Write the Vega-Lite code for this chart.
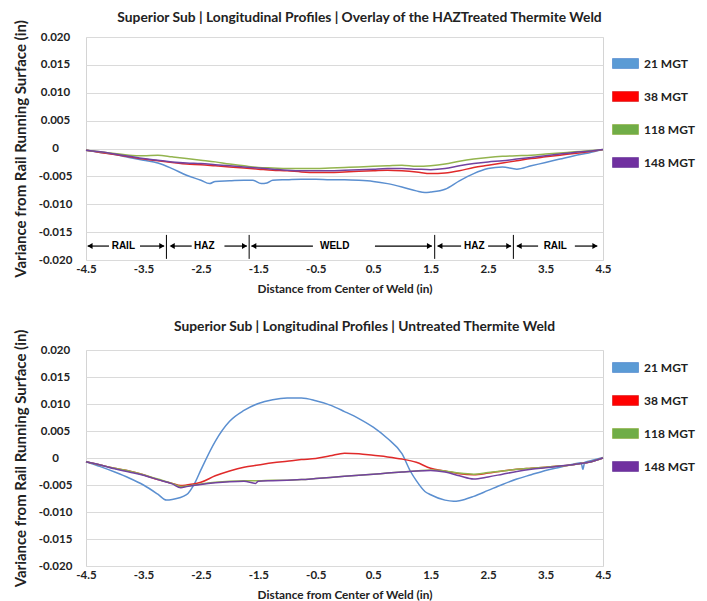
{
  "$schema": "https://vega.github.io/schema/vega-lite/v6.json",
  "background": "white",
  "padding": {"left": 12, "top": 10, "right": 4, "bottom": 0},
  "bounds": "flush",
  "config": {
    "font": "Lato",
    "view": {"stroke": "#d4d4d4", "strokeWidth": 1},
    "axis": {"labelFont": "Lato", "labelFontWeight": "bold", "labelFontSize": 11.5, "labelColor": "#222222", "titleFont": "Lato", "titleFontWeight": "bold", "titleColor": "#222222", "ticks": false, "domain": false, "gridColor": "#dadada", "labelOverlap": false},
    "title": {"font": "Lato", "fontWeight": "bold", "fontSize": 13.8, "color": "#222222"},
    "legend": {"labelFont": "Lato", "labelFontWeight": "bold", "labelFontSize": 12, "labelColor": "#222222", "symbolType": "M-1,-0.38H1V0.38H-1Z", "symbolSize": 676, "symbolStrokeWidth": 0.8, "labelOffset": 5, "rowPadding": 12, "padding": 0}
  },
  "datasets": {
    "top": [
      {"x": -4.5, "21 MGT": -0.0003, "38 MGT": -0.0003, "118 MGT": -0.0003, "148 MGT": -0.0003},
      {"x": -4.25, "21 MGT": -0.0007, "38 MGT": -0.0007, "118 MGT": -0.0006, "148 MGT": -0.0006},
      {"x": -4.0, "21 MGT": -0.0011, "38 MGT": -0.0011, "118 MGT": -0.0009, "148 MGT": -0.001},
      {"x": -3.75, "21 MGT": -0.0016, "38 MGT": -0.0015, "118 MGT": -0.0012, "148 MGT": -0.0014},
      {"x": -3.5, "21 MGT": -0.0021, "38 MGT": -0.0019, "118 MGT": -0.0013, "148 MGT": -0.0018},
      {"x": -3.25, "21 MGT": -0.0026, "38 MGT": -0.0022, "118 MGT": -0.0012, "148 MGT": -0.0021},
      {"x": -3.0, "21 MGT": -0.0036, "38 MGT": -0.0025, "118 MGT": -0.0015, "148 MGT": -0.0024},
      {"x": -2.75, "21 MGT": -0.0048, "38 MGT": -0.0028, "118 MGT": -0.0018, "148 MGT": -0.0026},
      {"x": -2.5, "21 MGT": -0.0057, "38 MGT": -0.0029, "118 MGT": -0.0021, "148 MGT": -0.0027},
      {"x": -2.35, "21 MGT": -0.0063},
      {"x": -2.25, "21 MGT": -0.0059, "38 MGT": -0.0031, "118 MGT": -0.0024, "148 MGT": -0.0029},
      {"x": -2.0, "21 MGT": -0.0058, "38 MGT": -0.0033, "118 MGT": -0.0028, "148 MGT": -0.0031},
      {"x": -1.75, "21 MGT": -0.0057, "38 MGT": -0.0035, "118 MGT": -0.0031, "148 MGT": -0.0033},
      {"x": -1.6, "21 MGT": -0.0057},
      {"x": -1.5, "38 MGT": -0.0037, "118 MGT": -0.0034, "148 MGT": -0.0035},
      {"x": -1.45, "21 MGT": -0.0063},
      {"x": -1.35, "21 MGT": -0.0062},
      {"x": -1.25, "21 MGT": -0.0057, "38 MGT": -0.0039, "118 MGT": -0.0035, "148 MGT": -0.0037},
      {"x": -1.0, "21 MGT": -0.0056, "38 MGT": -0.004, "118 MGT": -0.0036, "148 MGT": -0.0039},
      {"x": -0.75, "21 MGT": -0.0055, "38 MGT": -0.0042, "118 MGT": -0.0036, "148 MGT": -0.004},
      {"x": -0.5, "21 MGT": -0.0055, "38 MGT": -0.0043, "118 MGT": -0.0036, "148 MGT": -0.004},
      {"x": -0.25, "21 MGT": -0.0056, "38 MGT": -0.0043, "118 MGT": -0.0035, "148 MGT": -0.004},
      {"x": 0.0, "21 MGT": -0.0056, "38 MGT": -0.0042, "118 MGT": -0.0034, "148 MGT": -0.0039},
      {"x": 0.25, "21 MGT": -0.0057, "38 MGT": -0.0041, "118 MGT": -0.0033, "148 MGT": -0.0038},
      {"x": 0.5, "21 MGT": -0.0059, "38 MGT": -0.004, "118 MGT": -0.0032, "148 MGT": -0.0037},
      {"x": 0.75, "21 MGT": -0.0063, "38 MGT": -0.0039, "118 MGT": -0.0031, "148 MGT": -0.0036},
      {"x": 1.0, "21 MGT": -0.0069, "38 MGT": -0.004, "118 MGT": -0.003, "148 MGT": -0.0036},
      {"x": 1.25, "21 MGT": -0.0076, "38 MGT": -0.0042, "118 MGT": -0.0032, "148 MGT": -0.0037},
      {"x": 1.4, "21 MGT": -0.0079},
      {"x": 1.5, "21 MGT": -0.0078, "38 MGT": -0.0045, "118 MGT": -0.0031, "148 MGT": -0.0038},
      {"x": 1.75, "21 MGT": -0.0073, "38 MGT": -0.0044, "118 MGT": -0.0028, "148 MGT": -0.0036},
      {"x": 2.0, "21 MGT": -0.0058, "38 MGT": -0.004, "118 MGT": -0.0023, "148 MGT": -0.0031},
      {"x": 2.25, "21 MGT": -0.0045, "38 MGT": -0.0034, "118 MGT": -0.0019, "148 MGT": -0.0027},
      {"x": 2.5, "21 MGT": -0.0036, "38 MGT": -0.003, "118 MGT": -0.0016, "148 MGT": -0.0024},
      {"x": 2.75, "21 MGT": -0.0033, "38 MGT": -0.0026, "118 MGT": -0.0014, "148 MGT": -0.0022},
      {"x": 3.0, "21 MGT": -0.0037, "38 MGT": -0.0022, "118 MGT": -0.0013, "148 MGT": -0.0019},
      {"x": 3.25, "21 MGT": -0.0031, "38 MGT": -0.0018, "118 MGT": -0.0012, "148 MGT": -0.0016},
      {"x": 3.5, "21 MGT": -0.0025, "38 MGT": -0.0015, "118 MGT": -0.001, "148 MGT": -0.0013},
      {"x": 3.75, "21 MGT": -0.0019, "38 MGT": -0.0012, "118 MGT": -0.0008, "148 MGT": -0.001},
      {"x": 4.0, "21 MGT": -0.0013, "38 MGT": -0.0009, "118 MGT": -0.0006, "148 MGT": -0.0007},
      {"x": 4.25, "21 MGT": -0.0008, "38 MGT": -0.0006, "118 MGT": -0.0004, "148 MGT": -0.0005},
      {"x": 4.5, "21 MGT": -0.0002, "38 MGT": -0.0002, "118 MGT": -0.0002, "148 MGT": -0.0002}
    ],
    "bottom": [
      {"x": -4.5, "21 MGT": -0.0007, "38 MGT": -0.0007, "118 MGT": -0.0007, "148 MGT": -0.0007},
      {"x": -4.25, "21 MGT": -0.0016, "38 MGT": -0.0013, "118 MGT": -0.0013, "148 MGT": -0.0013},
      {"x": -4.0, "21 MGT": -0.0026, "38 MGT": -0.0019, "118 MGT": -0.0019, "148 MGT": -0.002},
      {"x": -3.75, "21 MGT": -0.0037, "38 MGT": -0.0024, "118 MGT": -0.0024, "148 MGT": -0.0026},
      {"x": -3.5, "21 MGT": -0.005, "38 MGT": -0.0031, "118 MGT": -0.0031, "148 MGT": -0.0032},
      {"x": -3.25, "21 MGT": -0.0067, "38 MGT": -0.004, "118 MGT": -0.0039, "148 MGT": -0.004},
      {"x": -3.1, "21 MGT": -0.0078},
      {"x": -3.0, "21 MGT": -0.0077, "38 MGT": -0.0047, "118 MGT": -0.0047, "148 MGT": -0.0048},
      {"x": -2.85, "38 MGT": -0.0051, "118 MGT": -0.0053, "148 MGT": -0.0055},
      {"x": -2.75, "21 MGT": -0.0068, "38 MGT": -0.005, "118 MGT": -0.0052, "148 MGT": -0.0053},
      {"x": -2.6, "21 MGT": -0.0045},
      {"x": -2.5, "21 MGT": -0.0022, "38 MGT": -0.0045, "118 MGT": -0.0048, "148 MGT": -0.0049},
      {"x": -2.25, "21 MGT": 0.0031, "38 MGT": -0.0033, "118 MGT": -0.0045, "148 MGT": -0.0046},
      {"x": -2.0, "21 MGT": 0.0068, "38 MGT": -0.0024, "118 MGT": -0.0043, "148 MGT": -0.0044},
      {"x": -1.75, "21 MGT": 0.0088, "38 MGT": -0.0017, "118 MGT": -0.0042, "148 MGT": -0.0043},
      {"x": -1.55, "148 MGT": -0.0047},
      {"x": -1.5, "21 MGT": 0.0101, "38 MGT": -0.0013, "118 MGT": -0.0042, "148 MGT": -0.0043},
      {"x": -1.25, "21 MGT": 0.0108, "38 MGT": -0.0009, "118 MGT": -0.0041, "148 MGT": -0.0042},
      {"x": -1.0, "21 MGT": 0.0111, "38 MGT": -0.0006, "118 MGT": -0.0041, "148 MGT": -0.0041},
      {"x": -0.75, "21 MGT": 0.0111, "38 MGT": -0.0003, "118 MGT": -0.004, "148 MGT": -0.004},
      {"x": -0.5, "21 MGT": 0.0106, "38 MGT": -0.0001, "118 MGT": -0.0038, "148 MGT": -0.0038},
      {"x": -0.25, "21 MGT": 0.0098, "38 MGT": 0.0004, "118 MGT": -0.0036, "148 MGT": -0.0036},
      {"x": 0.0, "21 MGT": 0.0086, "38 MGT": 0.0009, "118 MGT": -0.0034, "148 MGT": -0.0034},
      {"x": 0.25, "21 MGT": 0.0073, "38 MGT": 0.0008, "118 MGT": -0.0032, "148 MGT": -0.0032},
      {"x": 0.5, "21 MGT": 0.0057, "38 MGT": 0.0005, "118 MGT": -0.003, "148 MGT": -0.003},
      {"x": 0.75, "21 MGT": 0.0036, "38 MGT": 0.0002, "118 MGT": -0.0028, "148 MGT": -0.0028},
      {"x": 1.0, "21 MGT": 0.0008, "38 MGT": -0.0002, "118 MGT": -0.0026, "148 MGT": -0.0026},
      {"x": 1.15, "21 MGT": -0.0025},
      {"x": 1.25, "21 MGT": -0.0042, "38 MGT": -0.0008, "118 MGT": -0.0024, "148 MGT": -0.0024},
      {"x": 1.4, "21 MGT": -0.0062},
      {"x": 1.5, "21 MGT": -0.0068, "38 MGT": -0.0019, "118 MGT": -0.0022, "148 MGT": -0.0023},
      {"x": 1.75, "21 MGT": -0.0078, "38 MGT": -0.0024, "118 MGT": -0.0024, "148 MGT": -0.0026},
      {"x": 1.9, "21 MGT": -0.008},
      {"x": 2.0, "21 MGT": -0.0079, "38 MGT": -0.0029, "118 MGT": -0.0028, "148 MGT": -0.0033},
      {"x": 2.25, "21 MGT": -0.0071, "38 MGT": -0.0031, "118 MGT": -0.003, "148 MGT": -0.0039},
      {"x": 2.5, "21 MGT": -0.006, "38 MGT": -0.0028, "118 MGT": -0.0027, "148 MGT": -0.0035},
      {"x": 2.75, "21 MGT": -0.0049, "38 MGT": -0.0024, "118 MGT": -0.0024, "148 MGT": -0.003},
      {"x": 3.0, "21 MGT": -0.0039, "38 MGT": -0.0021, "118 MGT": -0.0021, "148 MGT": -0.0025},
      {"x": 3.25, "21 MGT": -0.0031, "38 MGT": -0.0019, "118 MGT": -0.0019, "148 MGT": -0.0021},
      {"x": 3.5, "21 MGT": -0.0023, "38 MGT": -0.0017, "118 MGT": -0.0017, "148 MGT": -0.0018},
      {"x": 3.75, "21 MGT": -0.0017, "38 MGT": -0.0015, "118 MGT": -0.0015, "148 MGT": -0.0015},
      {"x": 4.0, "21 MGT": -0.0011, "38 MGT": -0.0012, "118 MGT": -0.0012, "148 MGT": -0.0012},
      {"x": 4.12, "21 MGT": -0.0009},
      {"x": 4.15, "21 MGT": -0.0021},
      {"x": 4.18, "21 MGT": -0.0008},
      {"x": 4.25, "21 MGT": -0.0006, "38 MGT": -0.0008, "118 MGT": -0.0008, "148 MGT": -0.0008},
      {"x": 4.5, "21 MGT": 0.0001, "38 MGT": 0.0, "118 MGT": 0.0, "148 MGT": 0.0}
    ],
    "segs": [
      {"x": -4.47, "x2": -4.1, "value": -0.0175},
      {"x": -3.56, "x2": -3.14, "value": -0.0175},
      {"x": -3.02, "x2": -2.66, "value": -0.0175},
      {"x": -2.09, "x2": -1.7, "value": -0.0175},
      {"x": -1.62, "x2": -0.55, "value": -0.0175},
      {"x": 0.53, "x2": 1.52, "value": -0.0175},
      {"x": 1.62, "x2": 2.03, "value": -0.0175},
      {"x": 2.5, "x2": 2.9, "value": -0.0175},
      {"x": 3.0, "x2": 3.37, "value": -0.0175},
      {"x": 4.01, "x2": 4.4, "value": -0.0175}
    ],
    "heads": [
      {"x": -4.43, "value": -0.0175, "dir": "L"},
      {"x": -3.0, "value": -0.0175, "dir": "L"},
      {"x": -1.58, "value": -0.0175, "dir": "L"},
      {"x": 1.66, "value": -0.0175, "dir": "L"},
      {"x": 3.04, "value": -0.0175, "dir": "L"},
      {"x": -3.18, "value": -0.0175, "dir": "R"},
      {"x": -1.74, "value": -0.0175, "dir": "R"},
      {"x": 1.48, "value": -0.0175, "dir": "R"},
      {"x": 2.86, "value": -0.0175, "dir": "R"},
      {"x": 4.36, "value": -0.0175, "dir": "R"}
    ],
    "dividers": [
      {"x": -3.1, "value": -0.0155, "value2": -0.0198},
      {"x": -1.66, "value": -0.0155, "value2": -0.0198},
      {"x": 1.57, "value": -0.0155, "value2": -0.0198},
      {"x": 2.94, "value": -0.0155, "value2": -0.0198}
    ],
    "zones": [
      {"x": -3.85, "value": -0.0175, "label": "RAIL"},
      {"x": -2.44, "value": -0.0175, "label": "HAZ"},
      {"x": -0.17, "value": -0.0175, "label": "WELD"},
      {"x": 2.26, "value": -0.0175, "label": "HAZ"},
      {"x": 3.67, "value": -0.0175, "label": "RAIL"}
    ]
  },
  "spacing": 90,
  "resolve": {"scale": {"color": "independent"}, "legend": {"color": "independent"}},
  "vconcat": [
    {
      "title": {"text": "Superior Sub | Longitudinal Profiles | Overlay of the HAZTreated Thermite Weld", "dx": 15, "offset": -5},
      "width": 517,
      "height": 223,
      "encoding": {
        "x": {"field": "x", "type": "quantitative", "title": "Distance from Center of Weld (in)", "scale": {"domain": [-4.5, 4.5], "nice": false, "zero": false}, "axis": {"values": [-4.5, -3.5, -2.5, -1.5, -0.5, 0.5, 1.5, 2.5, 3.5, 4.5], "grid": false, "labelExpr": "replace(format(datum.value, '.1f'), '\u2212', '-')", "labelPadding": 3, "titleFontSize": 11.8, "titlePadding": 9, "labelFlush": false}},
        "y": {"field": "value", "type": "quantitative", "title": "Variance from Rail Running Surface (in)", "scale": {"domain": [-0.02, 0.02], "nice": false}, "axis": {"values": [-0.02, -0.015, -0.01, -0.005, 0, 0.005, 0.01, 0.015, 0.02], "labelExpr": "datum.value == 0 ? '0' : replace(format(datum.value, '.3f'), '\u2212', '-')", "labelAlign": "center", "labelPadding": 31, "titleFontSize": 15, "titlePadding": 10}}
      },
      "layer": [
        {
          "data": {"name": "top"},
          "transform": [
            {"fold": ["21 MGT", "38 MGT", "118 MGT", "148 MGT"], "as": ["series", "value"]},
            {"filter": "isValid(datum.value)"}
          ],
          "mark": {"type": "line", "strokeWidth": 1.5, "interpolate": "monotone"},
          "encoding": {
            "color": {"field": "series", "type": "nominal", "sort": ["21 MGT", "38 MGT", "118 MGT", "148 MGT"], "scale": {"domain": ["21 MGT", "38 MGT", "118 MGT", "148 MGT"], "range": ["#5b8fd0", "#e02a2a", "#93b44e", "#7242a0"]}, "legend": {"title": null, "orient": "none", "legendX": 526, "legendY": 13, "encode": {"symbols": {"update": {"fill": {"signal": "datum.value === '21 MGT' ? '#5b9bd5' : datum.value === '38 MGT' ? '#ff0000' : datum.value === '118 MGT' ? '#70ad47' : '#7030a0'"}, "stroke": {"value": "#666666"}, "strokeWidth": {"value": 0.8}}}}}}
          }
        },
        {
          "data": {"name": "segs"},
          "mark": {"type": "rule", "color": "#000000", "strokeWidth": 1.2},
          "encoding": {"x2": {"field": "x2"}}
        },
        {
          "data": {"name": "dividers"},
          "mark": {"type": "rule", "color": "#000000", "strokeWidth": 1},
          "encoding": {"y2": {"field": "value2"}}
        },
        {
          "data": {"name": "heads"},
          "mark": {"type": "point", "filled": true, "color": "#000000", "size": 35, "opacity": 1},
          "encoding": {"shape": {"field": "dir", "type": "nominal", "scale": {"domain": ["L", "R"], "range": ["triangle-left", "triangle-right"]}, "legend": null}}
        },
        {
          "data": {"name": "zones"},
          "mark": {"type": "text", "font": "Liberation Sans", "fontWeight": "bold", "fontSize": 10, "color": "#000000", "baseline": "middle"},
          "encoding": {"text": {"field": "label"}}
        }
      ]
    },
    {
      "title": {"text": "Superior Sub | Longitudinal Profiles | Untreated Thermite Weld", "dx": 20, "offset": -5},
      "width": 517,
      "height": 216,
      "layer": [
        {
          "data": {"name": "bottom"},
          "transform": [
            {"fold": ["21 MGT", "38 MGT", "118 MGT", "148 MGT"], "as": ["series", "value"]},
            {"filter": "isValid(datum.value)"}
          ],
          "mark": {"type": "line", "strokeWidth": 1.5, "interpolate": "monotone"},
          "encoding": {
            "x": {"field": "x", "type": "quantitative", "title": "Distance from Center of Weld (in)", "scale": {"domain": [-4.5, 4.5], "nice": false, "zero": false}, "axis": {"values": [-4.5, -3.5, -2.5, -1.5, -0.5, 0.5, 1.5, 2.5, 3.5, 4.5], "grid": false, "labelExpr": "replace(format(datum.value, '.1f'), '\u2212', '-')", "labelPadding": 3, "titleFontSize": 11.8, "titlePadding": 9, "labelFlush": false}},
            "y": {"field": "value", "type": "quantitative", "title": "Variance from Rail Running Surface (in)", "scale": {"domain": [-0.02, 0.02], "nice": false}, "axis": {"values": [-0.02, -0.015, -0.01, -0.005, 0, 0.005, 0.01, 0.015, 0.02], "labelExpr": "datum.value == 0 ? '0' : replace(format(datum.value, '.3f'), '\u2212', '-')", "labelAlign": "center", "labelPadding": 31, "titleFontSize": 15, "titlePadding": 10}},
            "color": {"field": "series", "type": "nominal", "sort": ["21 MGT", "38 MGT", "118 MGT", "148 MGT"], "scale": {"domain": ["21 MGT", "38 MGT", "118 MGT", "148 MGT"], "range": ["#5b8fd0", "#e02a2a", "#93b44e", "#7242a0"]}, "legend": {"title": null, "orient": "none", "legendX": 526, "legendY": 4, "encode": {"symbols": {"update": {"fill": {"signal": "datum.value === '21 MGT' ? '#5b9bd5' : datum.value === '38 MGT' ? '#ff0000' : datum.value === '118 MGT' ? '#70ad47' : '#7030a0'"}, "stroke": {"value": "#666666"}, "strokeWidth": {"value": 0.8}}}}}}
          }
        }
      ]
    }
  ]
}
